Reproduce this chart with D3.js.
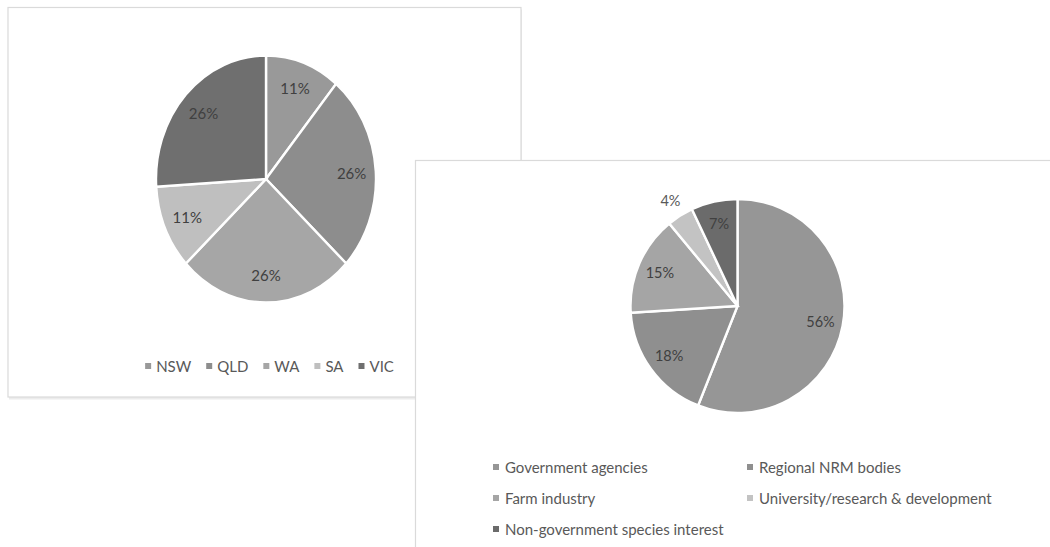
<!DOCTYPE html>
<html>
<head>
<meta charset="utf-8">
<script src="https://cdn.jsdelivr.net/npm/d3@7"></script>
<style>
  html, body { margin: 0; padding: 0; background: #ffffff; }
  svg { display: block; }
  text { font-family: Lato, "Open Sans", sans-serif; }
</style>
</head>
<body>
<svg id="chart" width="1050" height="547"></svg>
<script>
// ---- Data ----
const statesCategories = ["NSW", "QLD", "WA", "SA", "VIC"];
const statesValues = [11, 26, 26, 11, 26];
const statesColors = ["#999999", "#8d8d8d", "#a6a6a6", "#bfbfbf", "#6f6f6f"];

const orgCategories = ["Government agencies", "Regional NRM bodies", "Farm industry",
  "University/research & development", "Non-government species interest"];
const orgValues = [56, 18, 15, 4, 7];
const orgColors = ["#969696", "#8f8f8f", "#a5a5a5", "#c3c3c3", "#6b6b6b"];

const svg = d3.select("#chart");

// ---- Panels ----
// Left panel (behind)
svg.append("rect").attr("x", 9).attr("y", 9.5).attr("width", 513).attr("height", 390)
  .attr("fill", "#ececec");
svg.append("rect").attr("x", 8).attr("y", 7.5).attr("width", 513).attr("height", 389.5)
  .attr("fill", "#ffffff").attr("stroke", "#dadada").attr("stroke-width", 1.2);

// ---- Left pie ----
const pieL = d3.pie().sort(null).value(d => d)(statesValues);
const cxL = 266, cyL = 179, ryL = 123.5, rxL = 110;
const gL = svg.append("g").attr("transform", `translate(${cxL},${cyL}) scale(${rxL / ryL},1)`);
const arcL = d3.arc().innerRadius(0).outerRadius(ryL);
gL.selectAll("path").data(pieL).join("path")
  .attr("d", arcL)
  .attr("fill", (d, i) => statesColors[i])
  .attr("stroke", "#ffffff").attr("stroke-width", 2.4)
  .attr("vector-effect", "non-scaling-stroke");
const labArcL = d3.arc().innerRadius(ryL * 0.78).outerRadius(ryL * 0.78);
svg.append("g").selectAll("text").data(pieL).join("text")
  .attr("x", d => cxL + labArcL.centroid(d)[0] * rxL / ryL)
  .attr("y", d => cyL + labArcL.centroid(d)[1])
  .attr("text-anchor", "middle").attr("dominant-baseline", "central")
  .attr("font-size", 15).attr("fill", "#404040")
  .text(d => d.value + "%");

// Left legend
const legL = svg.append("g");
let items = [];
statesCategories.forEach((c, i) => {
  const g = legL.append("g");
  g.append("rect").attr("width", 6).attr("height", 6).attr("y", -3).attr("fill", statesColors[i]);
  const t = g.append("text").attr("x", 11).attr("dominant-baseline", "central")
    .attr("font-size", 15).attr("fill", "#595959").text(c);
  items.push({ g, w: 11 + t.node().getComputedTextLength() });
});
const gapL = 15;
const totalL = d3.sum(items, d => d.w) + gapL * (items.length - 1);
let xx = 269.5 - totalL / 2;
items.forEach(it => { it.g.attr("transform", `translate(${xx},366)`); xx += it.w + gapL; });

// ---- Right panel (front) ----
svg.append("rect").attr("x", 415.5).attr("y", 160.5).attr("width", 700).attr("height", 500)
  .attr("fill", "#ffffff").attr("stroke", "#dadada").attr("stroke-width", 1.2);

// ---- Right pie ----
const pieR = d3.pie().sort(null).value(d => d)(orgValues);
const cxR = 737.5, cyR = 306, rR = 107;
const gR = svg.append("g").attr("transform", `translate(${cxR},${cyR})`);
const arcR = d3.arc().innerRadius(0).outerRadius(rR);
gR.selectAll("path").data(pieR).join("path")
  .attr("d", arcR)
  .attr("fill", (d, i) => orgColors[i])
  .attr("stroke", "#ffffff").attr("stroke-width", 2.4);
const labArcR = d3.arc().innerRadius(rR * 0.79).outerRadius(rR * 0.79);
const outArcR = d3.arc().innerRadius(rR * 1.17).outerRadius(rR * 1.17);
gR.selectAll("text").data(pieR).join("text")
  .attr("x", d => (d.value < 5 ? outArcR : labArcR).centroid(d)[0])
  .attr("y", d => (d.value < 5 ? outArcR : labArcR).centroid(d)[1])
  .attr("text-anchor", "middle").attr("dominant-baseline", "central")
  .attr("font-size", 14.5).attr("fill", d => d.value < 5 ? "#595959" : "#404040")
  .text(d => d.value + "%");

// Right legend (two columns)
const colX = [493, 747];
const rowY = [467, 498, 529];
const legR = svg.append("g");
orgCategories.forEach((c, i) => {
  const g = legR.append("g")
    .attr("transform", `translate(${colX[i % 2]},${rowY[Math.floor(i / 2)]})`);
  g.append("rect").attr("width", 6).attr("height", 6).attr("y", -3).attr("fill", orgColors[i]);
  g.append("text").attr("x", 12).attr("dominant-baseline", "central")
    .attr("font-size", 15).attr("fill", "#595959").text(c);
});
</script>
</body>
</html>
